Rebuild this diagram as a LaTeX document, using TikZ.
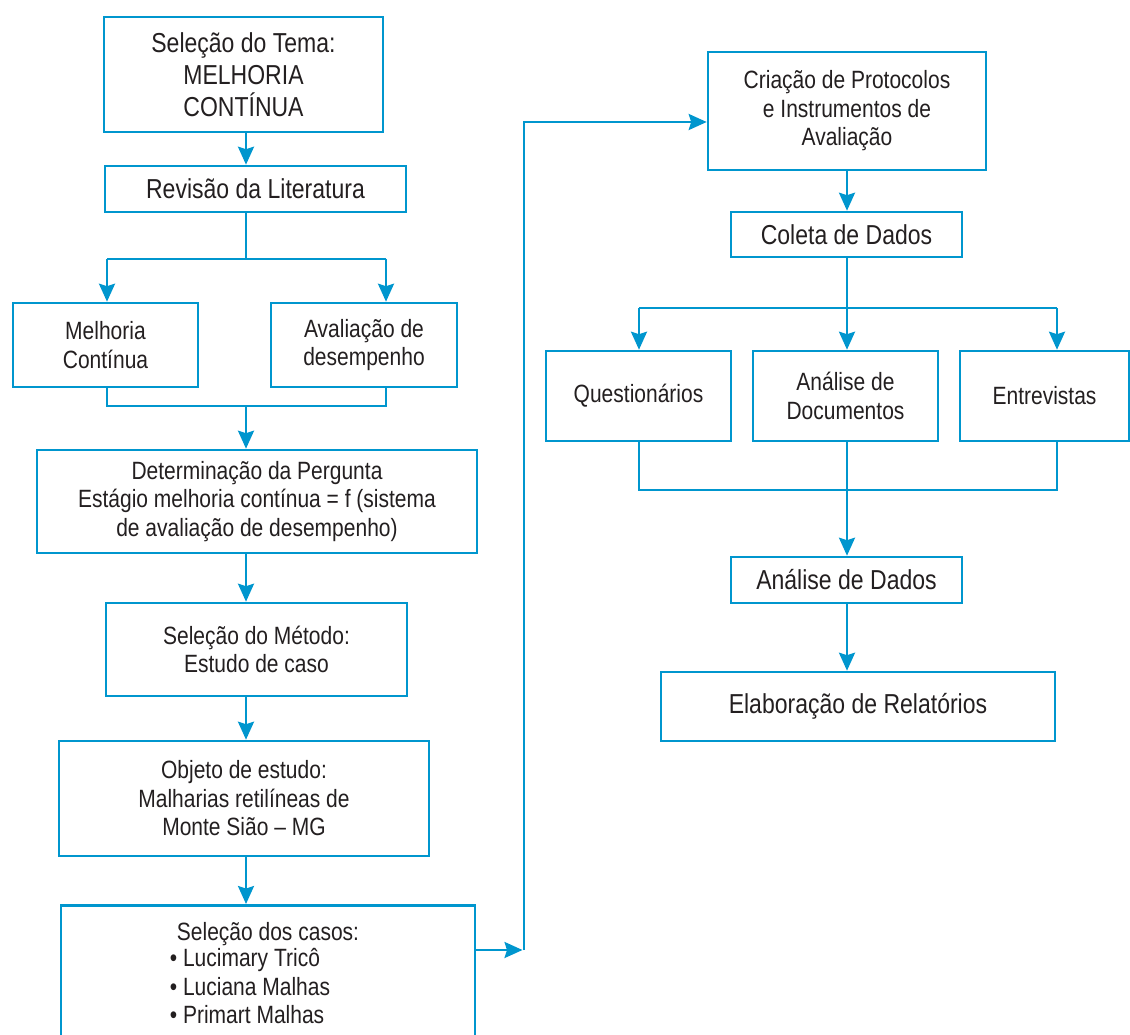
\documentclass[tikz,border=0pt]{standalone}
\usepackage{fontspec}
\setmainfont{Liberation Sans}[FakeStretch=0.84]
\usetikzlibrary{arrows.meta}
\definecolor{flowblue}{RGB}{0,150,206}
\definecolor{inkgray}{RGB}{35,31,32}

\begin{document}
\begin{tikzpicture}[x=1pt, y=-1pt,
    box/.style={draw=flowblue, line width=2.6pt, align=center, inner sep=0pt,
        text=inkgray, font=\fontsize{25}{28.5}\selectfont},
    bigbox/.style={box, font=\fontsize{27.4}{32}\selectfont},
    link/.style={flowblue, line width=2.5pt},
    arrow/.style={link, -{Stealth[length=18pt, width=16pt, inset=2.5pt]}}]
    \useasboundingbox (0,0) rectangle (1130,1035);

    % left column
    \node [bigbox, minimum width=279pt, minimum height=115pt] (tema) at (243.5,74.5)
        {Seleção do Tema:\\MELHORIA\\CONTÍNUA};
    \node [bigbox, minimum width=301pt, minimum height=46pt] (revisao) at (255.5,189)
        {Revisão da Literatura};
    \node [box, minimum width=185pt, minimum height=84pt] (melhoria) at (105.5,345)
        {Melhoria\\Contínua};
    \node [box, minimum width=186pt, minimum height=84pt] (desempenho) at (364,345)
        {Avaliação de\\desempenho};
    \node [box, minimum width=440pt, minimum height=103pt] (pergunta) at (257,501.5)
        {Determinação da Pergunta\\Estágio melhoria contínua = f (sistema\\de avaliação de desempenho)};
    \node [box, minimum width=301pt, minimum height=93pt] (metodo) at (256.5,649.5)
        {Seleção do Método:\\Estudo de caso};
    \node [box, minimum width=370pt, minimum height=115pt] (objeto) at (244,798.5)
        {Objeto de estudo:\\Malharias retilíneas de\\Monte Sião – MG};
    \node [box, anchor=north, minimum width=414pt, inner ysep=17pt] (casos) at (268,904)
        {Seleção dos casos:\\
         \begin{tabular}{@{}l@{}}• Lucimary Tricô\\• Luciana Malhas\\• Primart Malhas\end{tabular}\hspace*{36pt}};

    % right column
    \node [box, minimum width=278pt, minimum height=118pt] (criacao) at (847,111)
        {Criação de Protocolos\\e Instrumentos de\\Avaliação};
    \node [bigbox, minimum width=231pt, minimum height=45pt] (coleta) at (846.5,234.5)
        {Coleta de Dados};
    \node [box, minimum width=185pt, minimum height=90pt] (questionarios) at (638.5,396)
        {Questionários};
    \node [box, minimum width=185pt, minimum height=90pt] (documentos) at (845.5,396)
        {Análise de\\Documentos};
    \node [box, minimum width=169pt, minimum height=90pt] (entrevistas) at (1044.5,396)
        {Entrevistas};
    \node [bigbox, minimum width=231pt, minimum height=46pt] (analise) at (846.5,580)
        {Análise de Dados};
    \node [bigbox, minimum width=394pt, minimum height=69pt] (relatorios) at (858,706.5)
        {Elaboração de Relatórios};

    % left connectors
    \coordinate (split) at (246,259);
    \coordinate (lbranch) at (107,259);
    \coordinate (rbranch) at (386,259);
    \coordinate (ljoin) at (107,406);
    \coordinate (rjoin) at (386,406);
    \coordinate (merge) at (246,406);

    \draw [arrow] (tema.south -| split) -- (revisao.north -| split);
    \draw [link] (revisao.south -| split) -- (split);
    \draw [link] (lbranch) -- (rbranch);
    \draw [arrow] (lbranch) -- (lbranch |- melhoria.north);
    \draw [arrow] (rbranch) -- (rbranch |- desempenho.north);
    \draw [link] (ljoin |- melhoria.south) -- (ljoin) -- (rjoin) -- (rjoin |- desempenho.south);
    \draw [arrow] (merge) -- (merge |- pergunta.north);
    \draw [arrow] (pergunta.south -| split) -- (metodo.north -| split);
    \draw [arrow] (metodo.south -| split) -- (objeto.north -| split);
    \draw [arrow] (objeto.south -| split) -- (casos.north -| split);

    % bridge to the right column
    \coordinate (riser) at (524,950);
    \coordinate (corner) at (524,122);
    \draw [arrow, shorten >=1.5pt] (casos.east |- riser) -- (riser);
    \draw [arrow] (riser) -- (corner) -- (corner -| criacao.west);

    % right connectors
    \coordinate (rsplit) at (847,308);
    \coordinate (qbranch) at (639,308);
    \coordinate (ebranch) at (1057,308);
    \coordinate (rmerge) at (847,490);

    \draw [arrow] (criacao.south -| rsplit) -- (coleta.north -| rsplit);
    \draw [link] (coleta.south -| rsplit) -- (rsplit);
    \draw [link] (qbranch) -- (ebranch);
    \draw [arrow] (qbranch) -- (qbranch |- questionarios.north);
    \draw [arrow] (rsplit) -- (rsplit |- documentos.north);
    \draw [arrow] (ebranch) -- (ebranch |- entrevistas.north);
    \draw [link] (questionarios.south -| qbranch) -- (qbranch |- rmerge)
        -- (ebranch |- rmerge) -- (entrevistas.south -| ebranch);
    \draw [arrow] (documentos.south -| rmerge) -- (analise.north -| rmerge);
    \draw [arrow] (analise.south -| rmerge) -- (relatorios.north -| rmerge);
\end{tikzpicture}
\end{document}
